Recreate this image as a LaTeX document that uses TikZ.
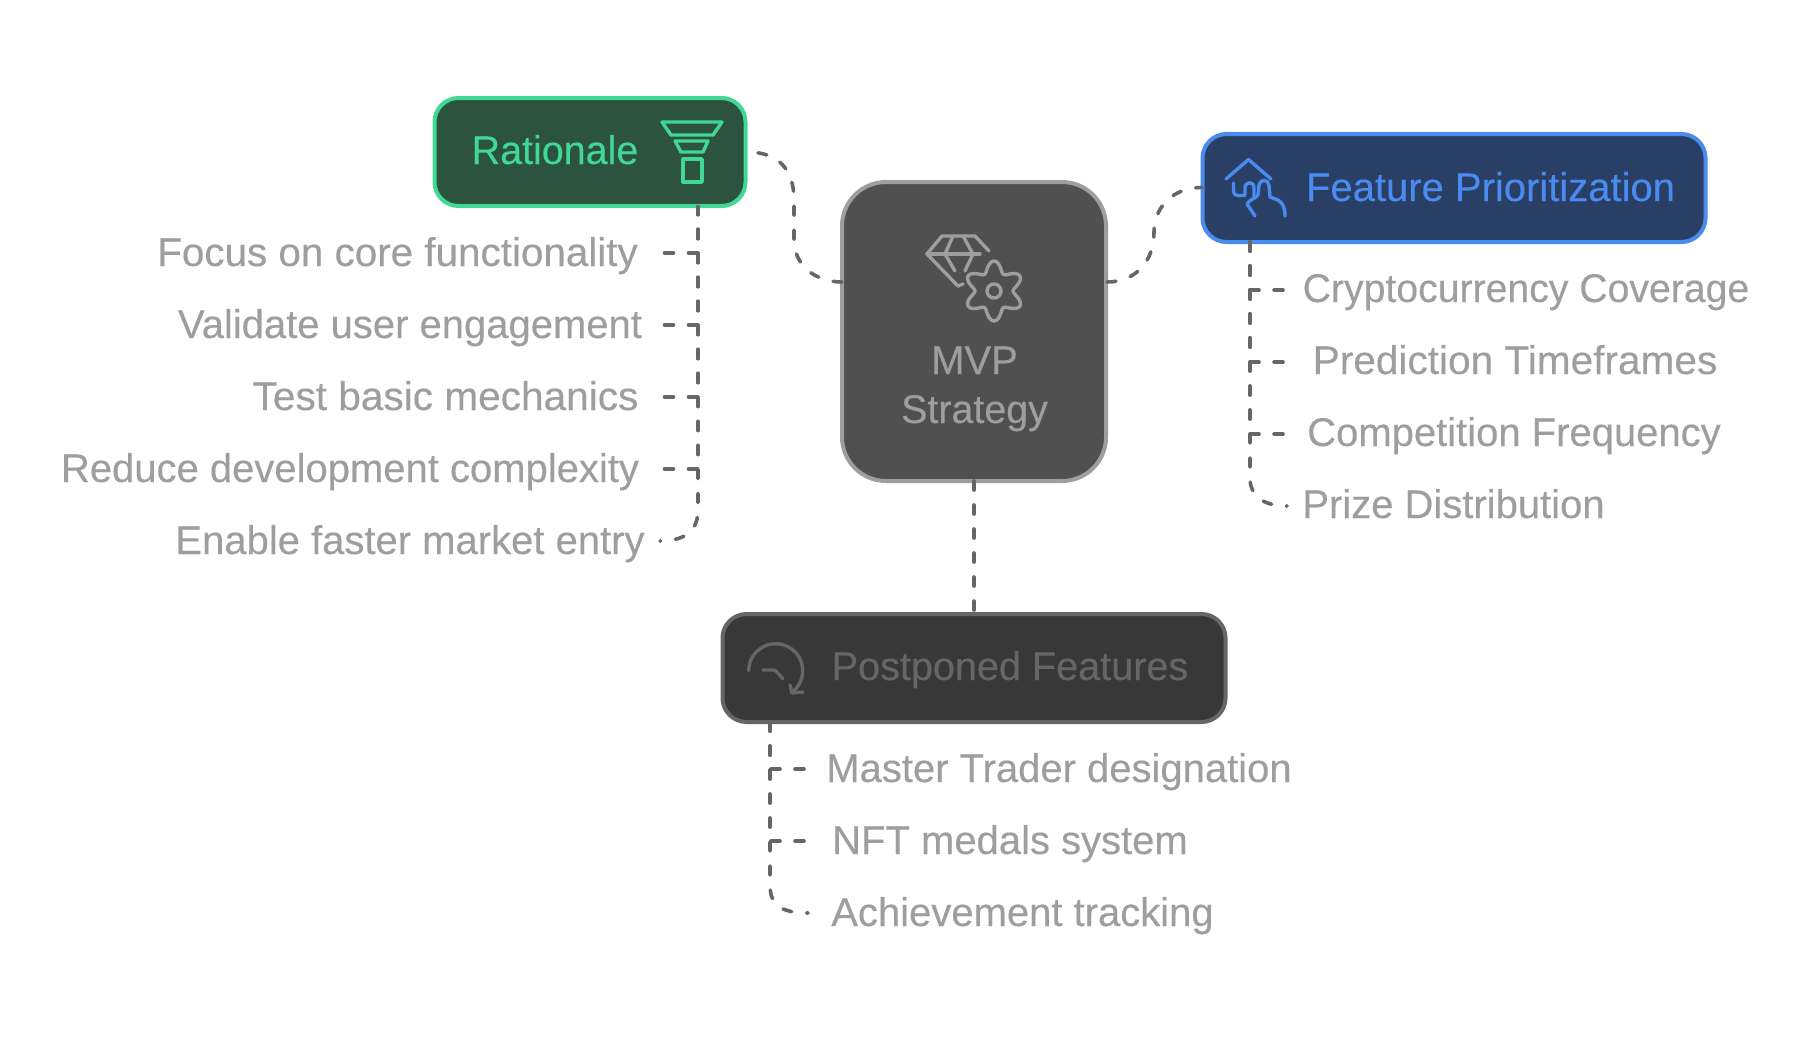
\documentclass[tikz,border=0pt]{standalone}
\usepackage{fontspec}
\setmainfont[FakeBold=0.2]{Liberation Sans}
\definecolor{lab}{HTML}{9E9E9E}
\definecolor{con}{HTML}{666666}
\definecolor{gfill}{HTML}{2C5240}
\definecolor{gline}{HTML}{41D795}
\definecolor{bfill}{HTML}{2A3F66}
\definecolor{bline}{HTML}{4A8BF0}
\definecolor{mfill}{HTML}{505050}
\definecolor{dfill}{HTML}{383838}
\definecolor{dline}{HTML}{666666}
\tikzset{
 box/.style={draw,line width=4bp,outer sep=0pt,inner sep=0pt,rounded corners=24bp},
 lbl/.style={anchor=base,inner sep=0pt,font=\fontsize{40bp}{40bp}\selectfont,text=lab},
 head/.style={anchor=base,inner sep=0pt,font=\fontsize{40bp}{40bp}\selectfont},
 conn/.style={draw=con,line width=3.6bp,line cap=round,line join=round,dash pattern=on 9bp off 15bp},
 connL/.style={conn,dash phase=1.5bp},
 icon/.style={line width=3.4bp,line cap=round,line join=round},
 wide/.style={transform shape,xscale=#1},
}
\begin{document}
\begin{tikzpicture}[x=1bp,y=-1bp]
\useasboundingbox[fill=white] (0,0) rectangle (1804,1036);
% boxes
\node[box,fill=gfill,draw=gline,minimum width=311bp,minimum height=108bp] (rat) at (590,152) {};
\node[box,fill=mfill,draw=lab,rounded corners=44bp,minimum width=264bp,minimum height=299bp] (mvp) at (974,331.5) {};
\node[box,fill=bfill,draw=bline,minimum width=503bp,minimum height=108bp] (fea) at (1454,188) {};
\node[box,fill=dfill,draw=dline,minimum width=503bp,minimum height=108bp] (pos) at (974,668) {};
% titles
\node[head,text=gline,wide=.986] (ratT) at (555,164) {Rationale};
\node[head,text=bline] (feaT) at (1490.5,201) {Feature Prioritization};
\node[head,text=dline,wide=.99] (posT) at (1010,680) {Postponed Features};
\node[head,text=lab] (mvpA) at (974.5,374) {MVP};
\node[head,text=lab,wide=.985] (mvpB) at (974.5,423) {Strategy};
% left list
\node[lbl,wide=1.01] (r1) at (397.5,266) {Focus on core functionality};
\node[lbl] (r2) at (410,338) {Validate user engagement};
\node[lbl,wide=1.015] (r3) at (445.5,410) {Test basic mechanics};
\node[lbl] (r4) at (350,482) {Reduce development complexity};
\node[lbl] (r5) at (410,554) {Enable faster market entry};
% right list
\node[lbl,wide=.98] (f1) at (1526,302) {Cryptocurrency Coverage};
\node[lbl,wide=1.015] (f2) at (1515,374) {Prediction Timeframes};
\node[lbl] (f3) at (1514,446) {Competition Frequency};
\node[lbl] (f4) at (1453.5,518) {Prize Distribution};
% bottom list
\node[lbl] (p1) at (1059,782) {Master Trader designation};
\node[lbl] (p2) at (1010,854) {NFT medals system};
\node[lbl] (p3) at (1022.5,926) {Achievement tracking};
% connector anchors
\coordinate (ratR) at (747,152);
\coordinate (mvpL) at (842,282);
\coordinate (mvpR) at (1107,282);
\coordinate (feaL) at (1202,187.5);
\coordinate (ratB) at (698,207);
\coordinate (feaB) at (1250,242);
\coordinate (posB) at (770,722);
\coordinate (e1) at (662,253);
\coordinate (e2) at (662,325);
\coordinate (e3) at (662,397);
\coordinate (e4) at (662,469);
\coordinate (e5) at (660,541);
\coordinate (g1) at (1287,290);
\coordinate (g2) at (1287,362);
\coordinate (g3) at (1287,434);
\coordinate (g4) at (1287,506);
\coordinate (h1) at (807,769);
\coordinate (h2) at (807,841);
\coordinate (h3) at (808,913);
% connectors
\draw[conn] (mvpL) .. controls (815,282) and (794,265) .. (794,240) -- (794,200) .. controls (794,170) and (779,152) .. (ratR);
\draw[conn] (mvpR) .. controls (1135,282) and (1154,262) .. (1154,232) .. controls (1154,210) and (1170,187.5) .. (feaL);
\draw[conn] (mvp.south) -- (pos.north);
\foreach \e in {e1,e2,e3,e4}{\draw[connL] (ratB) |- (\e);}
\draw[connL] (ratB) -- (698,510) .. controls (698,528) and (688,541) .. (e5);
\foreach \e in {g1,g2,g3}{\draw[conn] (feaB) |- (\e);}
\draw[conn] (feaB) -- (1250,478) .. controls (1250,495) and (1262,506) .. (g4);
\foreach \e in {h1,h2}{\draw[conn] (posB) |- (\e);}
\draw[conn] (posB) -- (770,885) .. controls (770,904) and (780,913) .. (h3);
% funnel icon
\draw[icon,draw=gline] (662,122) -- (722,122) -- (713,135) -- (671,135) -- cycle;
\draw[icon,draw=gline] (675,141) -- (708,141) -- (703,152) -- (681,152) -- cycle;
\draw[icon,draw=gline] (683,159) rectangle (702,182);
% gem and gear icon
\begin{scope}[icon,draw=lab]
\draw (989,251) -- (975,236) -- (942,236) -- (927,254) -- (958,286) -- (963,284);
\draw (927,254) -- (980,254);
\draw (953,236) -- (945,254) -- (955,271);
\draw (963,236) -- (973,254) -- (965,271);
\draw[shift={(994,291)}] plot[smooth cycle,domain=0:355,samples=72] (\x:{24.5-5.5*cos(6*\x)});
\draw (994,291) circle[radius=7];
\end{scope}
% house and hand icon
\begin{scope}[icon,draw=bline]
\draw (1226,179) -- (1248.5,159.5) -- (1271,179);
\draw (1233.5,183) -- (1233.5,191) .. controls (1233.5,194) and (1235,195.5) .. (1238,195.5) -- (1245,195.5) -- (1245,188) .. controls (1245,181) and (1254,181) .. (1254,188) -- (1254,197);
\draw (1255,216) -- (1247,204) .. controls (1249,200) and (1256,198) .. (1258,195) -- (1259,185) .. controls (1260,179) and (1268,179) .. (1269,185) -- (1270,197) -- (1278,200) .. controls (1283,203) and (1285,208) .. (1285,216);
\end{scope}
% clock icon
\begin{scope}[icon,draw=dline]
\draw plot[smooth,domain=180:415,samples=30] ({775.7+27*cos(\x)},{670.7+27*sin(\x)});
\draw (790,685) -- (792,693) -- (803,692);
\draw (763,670) -- (775,670) -- (783,679);
\end{scope}
\end{tikzpicture}
\end{document}
